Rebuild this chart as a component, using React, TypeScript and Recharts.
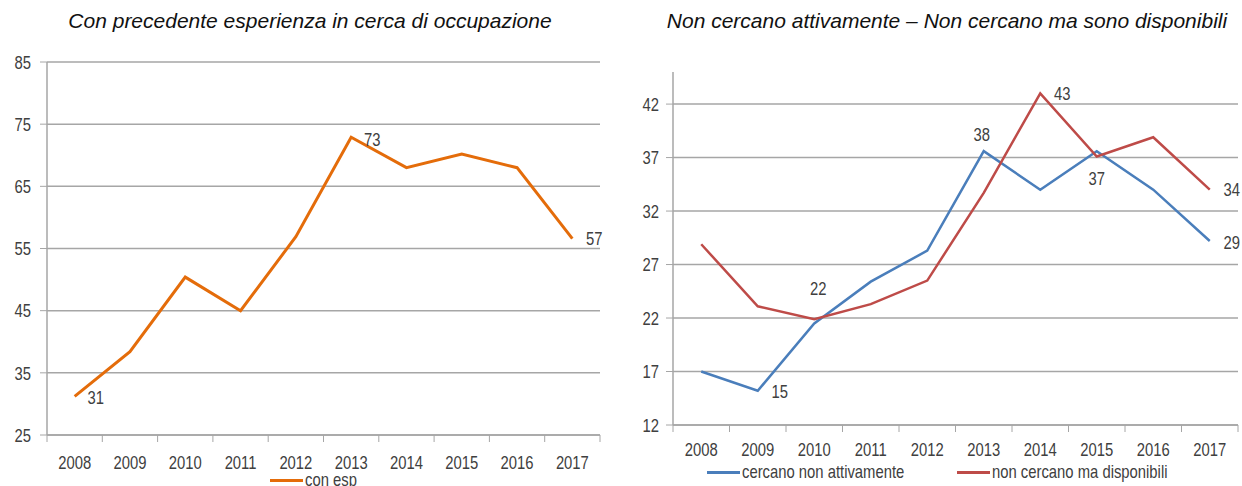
import { LineChart, Line, XAxis, YAxis, CartesianGrid, LabelList } from 'recharts';

// --- data ---
const years = ['2008', '2009', '2010', '2011', '2012', '2013', '2014', '2015', '2016', '2017'];
const conEsp = [31.2, 38.4, 50.4, 45.0, 56.9, 72.9, 68.0, 70.2, 68.0, 56.6];
const cercanoNonAttivamente = [17.0, 15.2, 21.5, 25.4, 28.3, 37.6, 34.0, 37.6, 34.0, 29.2];
const nonCercanoMaDisponibili = [28.9, 23.1, 21.9, 23.3, 25.5, 33.7, 43.0, 37.1, 38.9, 34.0];
const leftTicks = [25, 35, 45, 55, 65, 75, 85];
const rightTicks = [12, 17, 22, 27, 32, 37, 42];

const leftTitle = 'Con precedente esperienza in cerca di occupazione';
const rightTitle = 'Non cercano attivamente \u2013 Non cercano ma sono disponibili';

const ORANGE = '#E46C0A';
const BLUE = '#4A7EBB';
const RED = '#BE4B48';
const GRID = '#a6a6a6';
const TEXT = '#404040';
const SANS = '"Liberation Sans", Arial, sans-serif';
// the source chart was stretched vertically, so its Calibri text looks tall and narrow
const SQUEEZE = 0.78;
const FS = 19;
const HALF_DIGIT = 6.8;

const leftData = years.map((year, i) => ({ year, conEsp: conEsp[i] }));
const rightData = years.map((year, i) => ({
    year,
    attivi: cercanoNonAttivamente[i],
    disponibili: nonCercanoMaDisponibili[i],
}));

const SText = ({ x, y, anchor = 'middle', children }: any) => (
    <g transform={`translate(${x},${y}) scale(${SQUEEZE},1)`}>
        <text x={0} y={0} textAnchor={anchor} fill={TEXT} fontSize={FS} fontFamily={SANS}>
            {children}
        </text>
    </g>
);

// value label only on the points Excel labelled; [dx, dy] = label centre offset from point
const pointLabel = (show: Record<number, [number, number]>) => (props: any) => {
    const { index, value } = props;
    const off = show[index];
    if (!off) return null;
    const x = props.x ?? props.viewBox?.x;
    const y = props.y ?? props.viewBox?.y;
    return <SText x={x + off[0]} y={y + off[1] + HALF_DIGIT}>{Math.round(value)}</SText>;
};

// year label plus the tick marks between categories
const yearTick = (half: number, textDy: number) => (props: any) => {
    const { x, y, payload, index } = props;
    return (
        <g>
            <line x1={x - half} y1={y} x2={x - half} y2={y + 7} stroke={GRID} />
            {index === years.length - 1 && (
                <line x1={x + half} y1={y} x2={x + half} y2={y + 7} stroke={GRID} />
            )}
            <SText x={x} y={y + textDy}>{payload.value}</SText>
        </g>
    );
};

const valueTick = (props: any) => {
    const { x, y, payload } = props;
    return <SText x={x} y={y + HALF_DIGIT} anchor="end">{payload.value}</SText>;
};

const legendItem = (left: number, top: number, color: string, label: string) => (
    <div style={{ position: 'absolute', left, top, height: 16 }}>
        <span style={{ position: 'absolute', left: 0, top: 7, width: 33, height: 3, background: color }} />
        <span
            style={{
                position: 'absolute', left: 35, top: 0, whiteSpace: 'nowrap', fontFamily: SANS, fontSize: FS,
                color: TEXT, transform: `scaleX(${SQUEEZE})`, transformOrigin: 'left center', lineHeight: '16px',
            }}
        >
            {label}
        </span>
    </div>
);

const titleStyle = (left: number): any => ({
    position: 'absolute', left, width: 620, top: 9, textAlign: 'center', fontFamily: SANS,
    fontStyle: 'italic', fontSize: 21, color: '#111', whiteSpace: 'nowrap',
});

export default function App() {
    const leftPlotW = 600 - 47;
    const rightPlotW = 618 - 53;

    return (
        <div style={{ position: 'absolute', left: 0, top: 0, width: 1242, height: 486, background: '#fff', overflow: 'hidden' }}>
            <div style={titleStyle(0)}>{leftTitle}</div>
            <div style={titleStyle(637)}>{rightTitle}</div>

            <div style={{ position: 'absolute', left: 0, top: 0 }}>
                <LineChart width={620} height={486} data={leftData} margin={{ top: 62, right: 20, bottom: 21, left: 0 }}>
                    <CartesianGrid vertical={false} stroke={GRID} strokeWidth={1.5} />
                    <XAxis
                        dataKey="year"
                        height={30}
                        padding={{ left: leftPlotW / 20, right: leftPlotW / 20 }}
                        axisLine={{ stroke: GRID, strokeWidth: 1.5 }}
                        tickLine={false}
                        tickSize={0}
                        tickMargin={0}
                        interval={0}
                        tick={yearTick(leftPlotW / 20, 27 + HALF_DIGIT)}
                    />
                    <YAxis
                        width={47}
                        domain={[25, 85]}
                        ticks={leftTicks}
                        interval={0}
                        axisLine={{ stroke: GRID, strokeWidth: 1.5 }}
                        tickLine={{ stroke: GRID }}
                        tickSize={7}
                        tickMargin={9}
                        tick={valueTick}
                    />
                    <Line type="linear" dataKey="conEsp" stroke={ORANGE} strokeWidth={3} dot={false} activeDot={false} isAnimationActive={false}>
                        <LabelList dataKey="conEsp" content={pointLabel({ 0: [21, 1], 5: [21, 2], 9: [22, 0] })} />
                    </Line>
                </LineChart>
            </div>

            <div style={{ position: 'absolute', left: 620, top: 0 }}>
                <LineChart width={622} height={486} data={rightData} margin={{ top: 72, right: 4, bottom: 31, left: 0 }}>
                    <CartesianGrid vertical={false} stroke={GRID} strokeWidth={1.5} horizontalValues={rightTicks} />
                    <XAxis
                        dataKey="year"
                        height={30}
                        padding={{ left: rightPlotW / 20, right: rightPlotW / 20 }}
                        axisLine={{ stroke: GRID, strokeWidth: 1.5 }}
                        tickLine={false}
                        tickSize={0}
                        tickMargin={0}
                        interval={0}
                        tick={yearTick(rightPlotW / 20, 24 + HALF_DIGIT)}
                    />
                    <YAxis
                        width={53}
                        domain={[12, 45]}
                        ticks={rightTicks}
                        interval={0}
                        axisLine={{ stroke: GRID, strokeWidth: 1.5 }}
                        tickLine={{ stroke: GRID }}
                        tickSize={7}
                        tickMargin={7}
                        tick={valueTick}
                    />
                    <Line type="linear" dataKey="attivi" stroke={BLUE} strokeWidth={2.5} dot={false} activeDot={false} isAnimationActive={false}>
                        <LabelList dataKey="attivi" content={pointLabel({ 1: [22, 0], 5: [-2, -17], 9: [22, 1] })} />
                    </Line>
                    <Line type="linear" dataKey="disponibili" stroke={RED} strokeWidth={2.5} dot={false} activeDot={false} isAnimationActive={false}>
                        <LabelList dataKey="disponibili" content={pointLabel({ 2: [4, -31], 6: [22, 0], 7: [0, 22], 9: [22, 0] })} />
                    </Line>
                </LineChart>
            </div>

            {legendItem(270, 472, ORANGE, 'con esp')}
            {legendItem(707, 464, BLUE, 'cercano non attivamente')}
            {legendItem(957, 464, RED, 'non cercano ma disponibili')}
        </div>
    );
}
